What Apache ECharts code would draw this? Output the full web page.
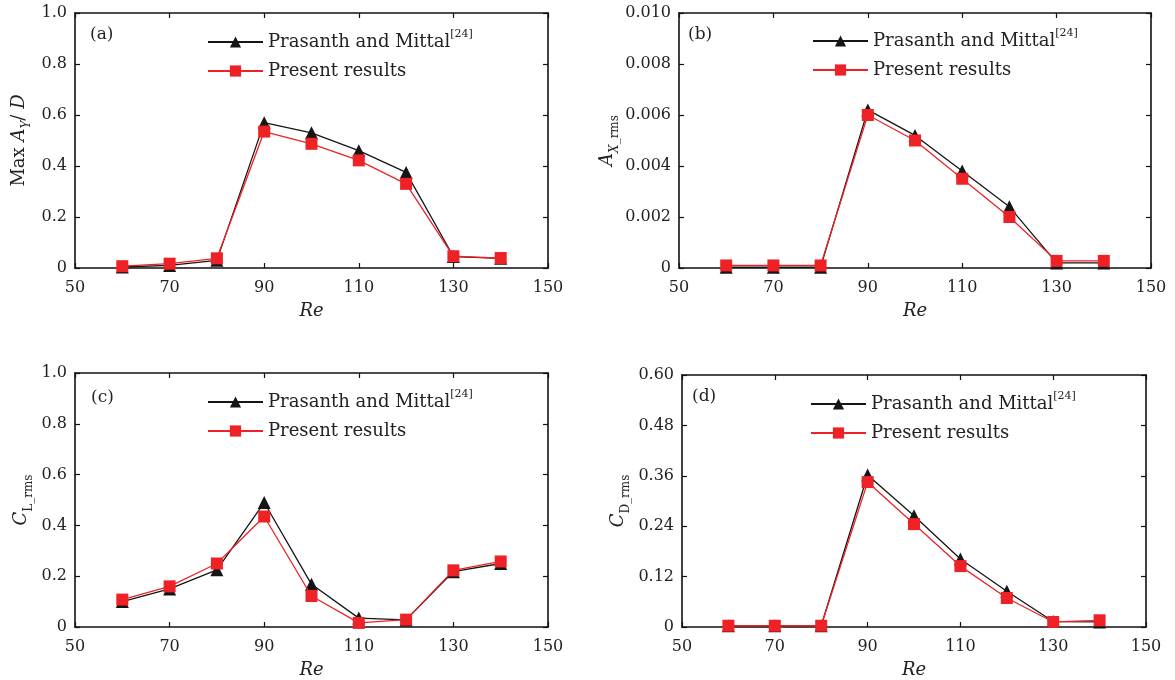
<!DOCTYPE html>
<html>
<head>
<meta charset="utf-8">
<script src="https://cdn.jsdelivr.net/npm/echarts@6/dist/echarts.min.js"></script>
<style>
html,body{margin:0;padding:0;background:#fff;}
#chart{width:1175px;height:680px;}
</style>
</head>
<body>
<div id="chart"></div>
<script>
// ---- data ----
var re = [60, 70, 80, 90, 100, 110, 120, 130, 140];
var xTicks = [50, 70, 90, 110, 130, 150];
var seriesNames = ['Prasanth and Mittal', 'Present results'];

var maxAyPM = [0.004, 0.01, 0.03, 0.57, 0.53, 0.46, 0.375, 0.045, 0.038];
var maxAyPR = [0.007, 0.017, 0.038, 0.535, 0.487, 0.422, 0.33, 0.046, 0.039];

var axRmsPM = [0.00003, 0.00003, 0.00003, 0.0062, 0.0052, 0.0038, 0.0024, 0.0002, 0.0002];
var axRmsPR = [0.0001, 0.0001, 0.0001, 0.006, 0.005, 0.0035, 0.002, 0.00028, 0.00028];

var clRmsPM = [0.10, 0.15, 0.225, 0.49, 0.168, 0.035, 0.028, 0.218, 0.25];
var clRmsPR = [0.108, 0.16, 0.25, 0.435, 0.122, 0.016, 0.029, 0.223, 0.258];

var cdRmsPM = [0.003, 0.003, 0.003, 0.362, 0.265, 0.162, 0.085, 0.013, 0.012];
var cdRmsPR = [0.003, 0.003, 0.003, 0.345, 0.245, 0.145, 0.069, 0.012, 0.016];

var yTicksA = [0, 0.2, 0.4, 0.6, 0.8, 1.0];
var yTicksB = [0, 0.002, 0.004, 0.006, 0.008, 0.010];
var yTicksC = [0, 0.2, 0.4, 0.6, 0.8, 1.0];
var yTicksD = [0, 0.12, 0.24, 0.36, 0.48, 0.60];

var panelLabels = ['(a)', '(b)', '(c)', '(d)'];

// ---- styling ----
var FONT = 'DejaVu Serif';
var TXT = '#222';
var BLACK = '#151515';
var RED = '#ee2226';

var grids = [
  {left: 75, top: 13, width: 473, height: 255},
  {left: 679, top: 13, width: 472, height: 255},
  {left: 75, top: 373, width: 473, height: 254},
  {left: 682, top: 375, width: 464, height: 252}
];

var yTickSets = [yTicksA, yTicksB, yTicksC, yTicksD];
var decimals = [1, 3, 1, 2];
var pmData = [maxAyPM, axRmsPM, clRmsPM, cdRmsPM];
var prData = [maxAyPR, axRmsPR, clRmsPR, cdRmsPR];

var nameRich = {
  n: {fontFamily: FONT, fontSize: 18, color: TXT, lineHeight: 28, verticalAlign: 'middle'},
  i: {fontFamily: FONT, fontSize: 18, fontStyle: 'italic', color: TXT, lineHeight: 28, verticalAlign: 'middle'},
  s: {fontFamily: FONT, fontSize: 12, color: TXT, lineHeight: 14, verticalAlign: 'bottom'},
  si: {fontFamily: FONT, fontSize: 12, fontStyle: 'italic', color: TXT, lineHeight: 14, verticalAlign: 'bottom'}
};
var yNames = [
  '{n|Max }{i|A}{si|Y}{n|/ }{i|D}',
  '{i|A}{si|X}{s|_rms}',
  '{i|C}{s|L_rms}',
  '{i|C}{s|D_rms}'
];
var yNameGaps = [42, 58, 40, 50];

var xAxes = [], yAxes = [], series = [], legends = [], graphics = [];
var legendPos = [
  {left: 207, top: 29},
  {left: 812, top: 28},
  {left: 207, top: 389},
  {left: 810, top: 391}
];
var labelPos = [[90, 36], [688, 36], [91, 399], [692, 398]];

function tickLine() {
  return {show: true, inside: true, length: 5, lineStyle: {color: '#111', width: 1.2}};
}

for (var g = 0; g < 4; g++) {
  var yt = yTickSets[g];
  var dec = decimals[g];
  xAxes.push({
    type: 'value', gridIndex: g, position: 'bottom',
    min: xTicks[0], max: xTicks[xTicks.length - 1],
    name: 'Re', nameLocation: 'middle', nameGap: 34,
    nameTextStyle: {fontFamily: FONT, fontSize: 18, fontStyle: 'italic', color: TXT},
    axisLine: {show: true, onZero: false, lineStyle: {color: '#111', width: 1.6}},
    axisTick: Object.assign(tickLine(), {customValues: xTicks}),
    axisLabel: {customValues: xTicks, fontFamily: FONT, fontSize: 16, color: TXT, margin: 12},
    splitLine: {show: false}
  });
  xAxes.push({
    type: 'value', gridIndex: g, position: 'top',
    min: xTicks[0], max: xTicks[xTicks.length - 1],
    axisLine: {show: true, onZero: false, lineStyle: {color: '#111', width: 1.6}},
    axisTick: Object.assign(tickLine(), {customValues: xTicks}),
    axisLabel: {show: false},
    splitLine: {show: false}
  });
  (function (dec) {
    yAxes.push({
      type: 'value', gridIndex: g, position: 'left',
      min: yt[0], max: yt[yt.length - 1], interval: yt[1] - yt[0],
      name: yNames[g], nameLocation: 'middle', nameRotate: 90, nameGap: yNameGaps[g],
      nameTextStyle: {rich: nameRich},
      axisLine: {show: true, onZero: false, lineStyle: {color: '#111', width: 1.6}},
      axisTick: tickLine(),
      axisLabel: {
        fontFamily: FONT, fontSize: 16, color: TXT, margin: 8,
        formatter: function (v) { return Math.abs(v) < 1e-12 ? '0' : v.toFixed(dec); }
      },
      splitLine: {show: false}
    });
  })(dec);
  yAxes.push({
    type: 'value', gridIndex: g, position: 'right',
    min: yt[0], max: yt[yt.length - 1], interval: yt[1] - yt[0],
    axisLine: {show: true, onZero: false, lineStyle: {color: '#111', width: 1.6}},
    axisTick: tickLine(),
    axisLabel: {show: false},
    splitLine: {show: false}
  });

  var pm = pmData[g], pr = prData[g];
  series.push({
    name: seriesNames[0], type: 'line', xAxisIndex: g * 2, yAxisIndex: g * 2,
    data: re.map(function (x, i) { return [x, pm[i]]; }),
    symbol: 'triangle', symbolSize: 13,
    itemStyle: {color: BLACK},
    lineStyle: {color: BLACK, width: 1.3},
    z: 2, animation: false
  });
  series.push({
    name: seriesNames[1], type: 'line', xAxisIndex: g * 2, yAxisIndex: g * 2,
    data: re.map(function (x, i) { return [x, pr[i]]; }),
    symbol: 'rect', symbolSize: 12,
    itemStyle: {color: RED},
    lineStyle: {color: RED, width: 1.3},
    z: 3, animation: false
  });

  legends.push({
    orient: 'vertical', left: legendPos[g].left, top: legendPos[g].top,
    padding: 0,
    itemWidth: 55, itemHeight: 14, itemGap: 11,
    data: seriesNames,
    selectedMode: false,
    formatter: function (name) {
      return name === seriesNames[0] ? '{t|' + name + '}{sup|[24]}' : '{t|' + name + '}';
    },
    textStyle: {
      fontFamily: FONT, fontSize: 18, color: TXT,
      rich: {
        t: {fontFamily: FONT, fontSize: 18, color: TXT, lineHeight: 26, verticalAlign: 'middle'},
        sup: {fontFamily: FONT, fontSize: 11, color: TXT, lineHeight: 14, verticalAlign: 'top'}
      }
    }
  });

  graphics.push({
    type: 'text', left: labelPos[g][0], top: labelPos[g][1] - 10,
    style: {text: panelLabels[g], fontFamily: FONT, fontSize: 17, fill: TXT}
  });
}

var chart = echarts.init(document.getElementById('chart'), null, {renderer: 'canvas'});
chart.setOption({
  backgroundColor: '#fff',
  animation: false,
  grid: grids,
  xAxis: xAxes,
  yAxis: yAxes,
  legend: legends,
  series: series,
  graphic: graphics
});
</script>
</body>
</html>
